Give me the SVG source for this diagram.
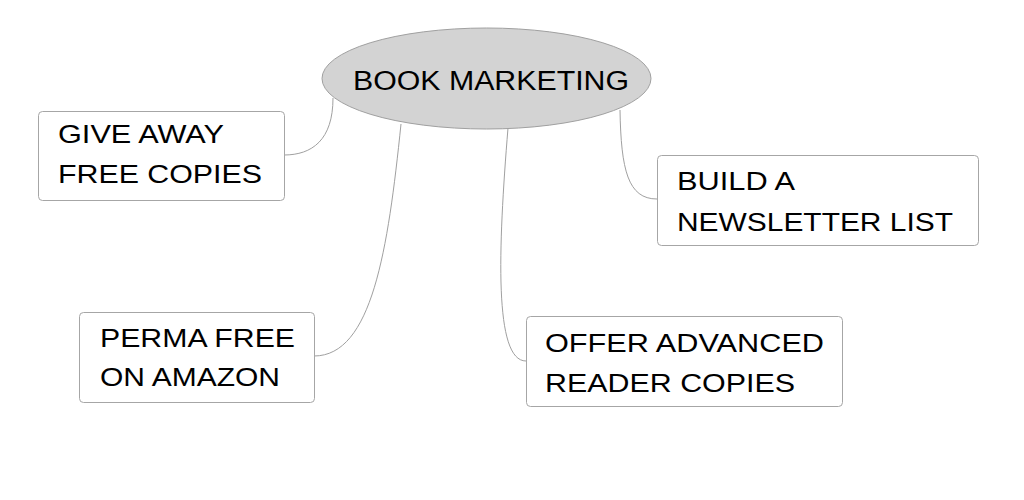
<svg xmlns="http://www.w3.org/2000/svg" width="1024" height="500" viewBox="0 0 1024 500">
<style>
.box{fill:#fff;stroke:#a6a6a6;stroke-width:1}
.conn{fill:none;stroke:#a0a0a0;stroke-width:1}
.t{font-family:"Liberation Sans",Arial,sans-serif;font-size:26px;fill:#000}
</style>
<rect width="1024" height="500" fill="#fff"/>
<g id="connectors">
<path class="conn" d="M333,98 C333,140 312,155 284,155"/>
<path class="conn" d="M401,124 C388,250 372,356 314,356"/>
<path class="conn" d="M508,128 C498,250 494,361 526,361"/>
<path class="conn" d="M620,110 C621,170 628,199 657,199"/>
</g>
<g id="root">
<ellipse cx="486.5" cy="78.5" rx="164.5" ry="50.5" fill="#d3d3d3" stroke="#a0a0a0" stroke-width="1"/>
<text class="t" x="353" y="89.5" style="font-size:27px" textLength="276" lengthAdjust="spacingAndGlyphs">BOOK MARKETING</text>
</g>
<g id="give-away">
<rect class="box" x="38.5" y="111.5" width="246" height="89" rx="4"/>
<text class="t" x="58" y="143" textLength="166" lengthAdjust="spacingAndGlyphs">GIVE AWAY</text>
<text class="t" x="58" y="183" textLength="204" lengthAdjust="spacingAndGlyphs">FREE COPIES</text>
</g>
<g id="perma-free">
<rect class="box" x="79.5" y="312.5" width="235" height="90" rx="4"/>
<text class="t" x="100" y="346.5" textLength="195" lengthAdjust="spacingAndGlyphs">PERMA FREE</text>
<text class="t" x="100" y="386" textLength="180" lengthAdjust="spacingAndGlyphs">ON AMAZON</text>
</g>
<g id="offer-arc">
<rect class="box" x="526.5" y="316.5" width="316" height="90" rx="4"/>
<text class="t" x="545" y="351.5" textLength="279" lengthAdjust="spacingAndGlyphs">OFFER ADVANCED</text>
<text class="t" x="545" y="391.5" textLength="250" lengthAdjust="spacingAndGlyphs">READER COPIES</text>
</g>
<g id="newsletter">
<rect class="box" x="657.5" y="155.5" width="321" height="90" rx="4"/>
<text class="t" x="677" y="190" textLength="118" lengthAdjust="spacingAndGlyphs">BUILD A</text>
<text class="t" x="677" y="230.5" textLength="276" lengthAdjust="spacingAndGlyphs">NEWSLETTER LIST</text>
</g>
</svg>
